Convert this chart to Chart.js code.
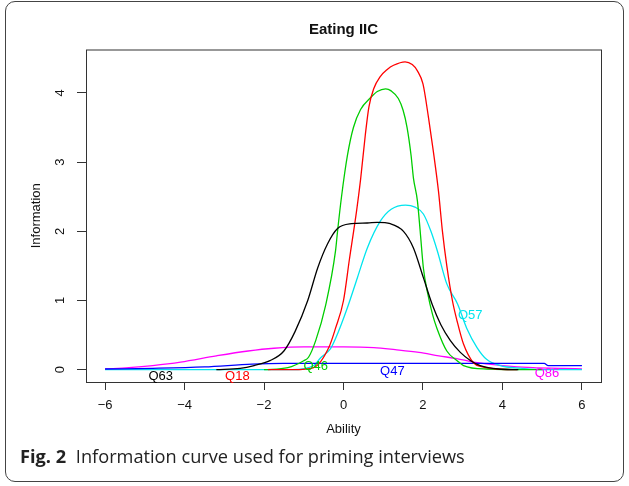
<!DOCTYPE html>
<html lang="en">
<head>
    <meta charset="UTF-8">
    <title>Eating IIC</title>
    <script src="https://cdn.jsdelivr.net/npm/chart.js"></script>
    <style>
        body { margin: 0; background: #fff; }
        #wrap { position: relative; width: 629px; height: 486px; overflow: hidden; }
        #frame {
            position: absolute; left: 5px; top: 1px; width: 619px; height: 481px;
            box-sizing: border-box; border: 1.5px solid #444; border-radius: 10px;
        }
        #chart { position: absolute; left: 0; top: 0; }
        #caption {
            position: absolute; left: 20px; top: 444px;
            font-family: "Open Sans", sans-serif; font-size: 18.2px; color: #222; white-space: nowrap;
        }
        #caption b { font-weight: 700; margin-right: 5px; }
    </style>
</head>
<body>
    <div id="wrap">
        <div id="frame"></div>
        <canvas id="chart" width="629" height="486"></canvas>
        <div id="caption"><b>Fig. 2</b> Information curve used for priming interviews</div>
    </div>

    <script>
        // tick values
        const xTicks = [-6, -4, -2, 0, 2, 4, 6];
        const yTicks = [0, 1, 2, 3, 4];

        // item information curves
        const q63X = [-3.2, -2.6, -2.25, -1.85, -1.5, -1.22, -0.9, -0.65, -0.4, -0.15, 0.2, 0.6, 0.85, 1.18, 1.51, 1.76, 2.01, 2.24, 2.45, 2.69, 2.94, 3.2, 3.44, 3.9, 4.4];
        const q63Y = [0.0, 0.02, 0.06, 0.13, 0.27, 0.55, 1.0, 1.47, 1.82, 2.04, 2.11, 2.12, 2.13, 2.11, 2.0, 1.76, 1.33, 0.93, 0.65, 0.42, 0.25, 0.13, 0.06, 0.01, 0.0];

        const q18X = [-1.9, -1.25, -0.75, -0.37, -0.2, 0, 0.15, 0.33, 0.43, 0.55, 0.64, 0.76, 0.93, 1.1, 1.26, 1.55, 1.73, 1.86, 2.0, 2.14, 2.26, 2.39, 2.49, 2.6, 2.74, 2.86, 3.02, 3.27, 3.5, 3.87, 4.37];
        const q18Y = [0.0, 0.0, 0.03, 0.32, 0.6, 1.0, 1.6, 2.3, 2.75, 3.4, 3.8, 4.06, 4.24, 4.34, 4.4, 4.45, 4.41, 4.32, 4.13, 3.64, 3.16, 2.58, 2.0, 1.5, 1.0, 0.7, 0.37, 0.1, 0.04, 0.01, 0.0];

        const q46X = [-2.0, -1.4, -1.0, -0.88, -0.7, -0.45, -0.2, -0.15, -0.05, 0.1, 0.25, 0.43, 0.68, 0.85, 1.06, 1.2, 1.38, 1.5, 1.6, 1.7, 1.76, 1.86, 1.93, 2.01, 2.12, 2.24, 2.35, 2.6, 2.86, 3.02, 3.6, 5.0];
        const q46Y = [0.0, 0.03, 0.13, 0.18, 0.42, 0.93, 1.72, 2.0, 2.5, 3.1, 3.5, 3.76, 3.93, 4.02, 4.06, 4.03, 3.92, 3.75, 3.5, 3.1, 2.77, 2.44, 2.0, 1.47, 1.1, 0.8, 0.6, 0.27, 0.13, 0.06, 0.01, 0.0];

        const q47X = [-6, -4.8, -3.5, -2.3, -1.5, 0, 2, 4, 5.05, 5.15, 6];
        const q47Y = [0.01, 0.02, 0.04, 0.08, 0.09, 0.09, 0.09, 0.09, 0.09, 0.06, 0.06];

        const q57X = [-6, -1.3, -0.75, -0.58, -0.33, -0.2, 0.1, 0.35, 0.6, 0.93, 1.2, 1.56, 1.8, 2.01, 2.2, 2.36, 2.6, 2.87, 3.1, 3.36, 3.6, 3.94, 4.5, 5.0, 6];
        const q57Y = [0.0, 0.0, 0.06, 0.17, 0.3, 0.45, 0.9, 1.33, 1.76, 2.15, 2.32, 2.38, 2.35, 2.25, 2.0, 1.72, 1.24, 0.95, 0.6, 0.32, 0.15, 0.06, 0.02, 0.0, 0.0];

        const q86X = [-6, -5.4, -4.8, -4.1, -3.2, -2.4, -1.75, -1.0, 0, 0.76, 1.3, 1.9, 2.4, 2.85, 3.27, 4.0, 4.77, 5.5, 6];
        const q86Y = [0.01, 0.03, 0.06, 0.11, 0.2, 0.27, 0.31, 0.33, 0.33, 0.32, 0.29, 0.25, 0.2, 0.16, 0.11, 0.06, 0.03, 0.02, 0.01];

        // item names, colours and where their labels sit (data units)
        const itemNames = ['Q63', 'Q18', 'Q46', 'Q47', 'Q57', 'Q86'];
        const itemColors = ['#000000', '#ff0000', '#00cd00', '#0000ff', '#00e5ee', '#ff00ff'];
        const labelX = [-4.6, -2.67, -0.7, 1.23, 3.19, 5.12];
        const labelY = [-0.1, -0.1, 0.04, -0.02, 0.79, -0.05];

        const seriesX = [q63X, q18X, q46X, q47X, q57X, q86X];
        const seriesY = [q63Y, q18Y, q46Y, q47Y, q57Y, q86Y];

        const FONT = '"Liberation Sans", Arial, sans-serif';

        // plot box, main title and item labels, R style
        const extras = {
            id: 'extras',
            afterDatasetsDraw(chart) {
                const { ctx, chartArea: a, scales } = chart;
                ctx.save();
                ctx.strokeStyle = '#333';
                ctx.lineWidth = 1;
                ctx.strokeRect(a.left + 0.5, a.top + 0.5, a.right - a.left, a.bottom - a.top);

                ctx.fillStyle = '#111';
                ctx.font = 'bold 15px ' + FONT;
                ctx.textAlign = 'center';
                ctx.textBaseline = 'middle';
                ctx.fillText('Eating IIC', (a.left + a.right) / 2, 30);

                ctx.font = '13px ' + FONT;
                itemNames.forEach((name, i) => {
                    ctx.fillStyle = itemColors[i];
                    ctx.fillText(name, scales.x.getPixelForValue(labelX[i]), scales.y.getPixelForValue(labelY[i]));
                });
                ctx.restore();
            }
        };

        new Chart(document.getElementById('chart'), {
            type: 'scatter',
            data: {
                datasets: itemNames.map((name, i) => ({
                    label: name,
                    data: seriesX[i].map((x, j) => ({ x: x, y: seriesY[i][j] })),
                    showLine: true,
                    borderColor: itemColors[i],
                    borderWidth: 1.3,
                    pointRadius: 0,
                    cubicInterpolationMode: 'monotone'
                }))
            },
            options: {
                responsive: false,
                animation: false,
                events: [],
                layout: { padding: { top: 49.5, left: 29, right: 28, bottom: 49 } },
                plugins: {
                    legend: { display: false },
                    tooltip: { enabled: false }
                },
                scales: {
                    x: {
                        type: 'linear',
                        min: -6.48,
                        max: 6.48,
                        afterBuildTicks: (s) => { s.ticks = xTicks.map(v => ({ value: v })); },
                        afterFit: (s) => { s.height = 55; },
                        grid: { drawOnChartArea: false, tickLength: 8, color: '#333' },
                        border: { display: false },
                        ticks: {
                            padding: 8,
                            color: '#111',
                            font: { family: FONT, size: 13 },
                            callback: (v) => String(v).replace('-', '\u2212')
                        },
                        title: { display: true, text: 'Ability', color: '#111', padding: 0, font: { family: FONT, size: 13 } }
                    },
                    y: {
                        min: -0.178,
                        max: 4.628,
                        afterBuildTicks: (s) => { s.ticks = yTicks.map(v => ({ value: v })); },
                        afterFit: (s) => { s.width = 57; },
                        grid: { drawOnChartArea: false, tickLength: 9, color: '#333' },
                        border: { display: false },
                        ticks: {
                            minRotation: 90,
                            maxRotation: 90,
                            crossAlign: 'center',
                            padding: 13,
                            color: '#111',
                            font: { family: FONT, size: 13 }
                        },
                        title: { display: true, text: 'Information', color: '#111', padding: 0, font: { family: FONT, size: 13 } }
                    }
                }
            },
            plugins: [extras]
        });
    </script>
</body>
</html>
